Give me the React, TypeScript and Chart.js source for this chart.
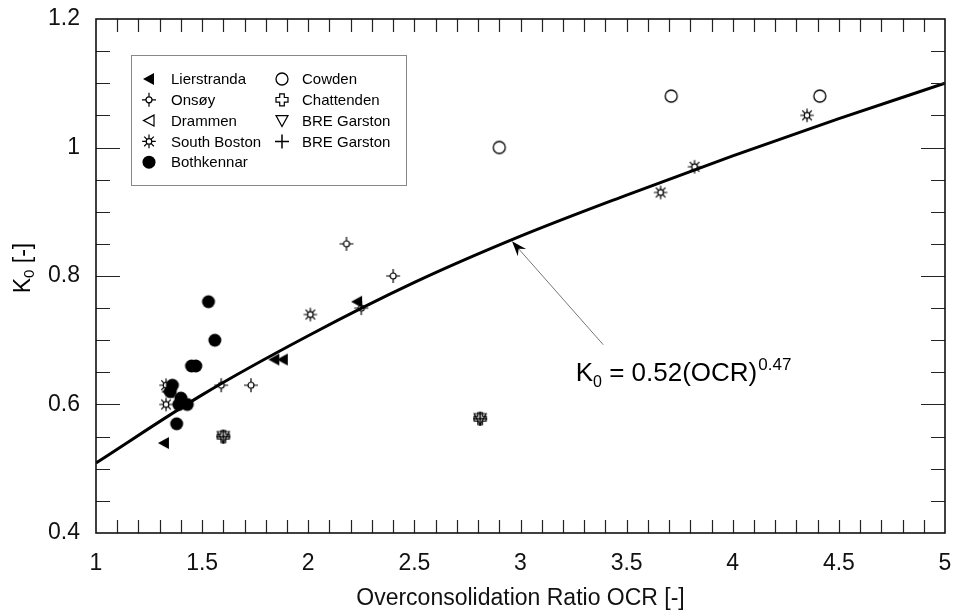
import React, { useEffect, useRef } from 'react';
import { Chart, registerables } from 'chart.js';

Chart.register(...registerables);

const FONT = "'Liberation Sans', Arial, Helvetica, sans-serif";

// ---- data (OCR, K0) ----
const lierstranda: [number, number][] = [[1.32, 0.54], [1.84, 0.67], [1.88, 0.67], [2.23, 0.76]];
const onsoy: [number, number][] = [[1.59, 0.63], [1.73, 0.63], [2.18, 0.85], [2.4, 0.8], [2.25, 0.75]];
const drammen: [number, number][] = [[1.34, 0.62]];
const southBoston: [number, number][] = [[1.33, 0.63], [1.33, 0.6], [2.01, 0.74], [3.66, 0.93], [3.82, 0.97], [4.35, 1.05]];
const bothkennar: [number, number][] = [
  [1.53, 0.76], [1.56, 0.7], [1.45, 0.66], [1.47, 0.66], [1.36, 0.63],
  [1.35, 0.62], [1.4, 0.61], [1.39, 0.6], [1.43, 0.6], [1.38, 0.57],
];
const cowden: [number, number][] = [[2.9, 1.0], [3.71, 1.08], [4.41, 1.08]];
const chattenden: [number, number][] = [[1.6, 0.55], [2.81, 0.578]];
const breGarstonTri: [number, number][] = [[1.6, 0.55], [2.81, 0.578]];
const breGarstonPlus: [number, number][] = [[1.6, 0.55], [2.81, 0.578]];

// fitted curve K0 = 0.52(OCR)^0.47
const curveOCR = [1.0, 1.5, 2.0, 2.5, 3.0, 3.5, 4.0, 4.5, 5.0];
const curveK0 = [0.509, 0.615, 0.707, 0.79, 0.862, 0.926, 0.987, 1.045, 1.1];

const xMin = 1, xMax = 5, xStep = 0.5, xMinor = 0.1;
const yMin = 0.4, yMax = 1.2, yStep = 0.2, yMinor = 0.05;

// annotation anchor values (data units)
const arrowTip = [2.96, 0.854];
const arrowTail = [3.39, 0.693];
const eqPos = [3.26, 0.637];

type Kind = 'triL' | 'onsoy' | 'triLOpen' | 'sun' | 'dot' | 'ring' | 'openPlus' | 'triDown' | 'plus';

const series: { label: string; kind: Kind; data: [number, number][]; order: number }[] = [
  { label: 'Lierstranda', kind: 'triL', data: lierstranda, order: 1 },
  { label: 'Onsøy', kind: 'onsoy', data: onsoy, order: 1 },
  { label: 'Drammen', kind: 'triLOpen', data: drammen, order: 2 },
  { label: 'South Boston', kind: 'sun', data: southBoston, order: 2 },
  { label: 'Bothkennar', kind: 'dot', data: bothkennar, order: 0 },
  { label: 'Cowden', kind: 'ring', data: cowden, order: 1 },
  { label: 'Chattenden', kind: 'openPlus', data: chattenden, order: 1 },
  { label: 'BRE Garston', kind: 'triDown', data: breGarstonTri, order: 1 },
  { label: 'BRE Garston', kind: 'plus', data: breGarstonPlus, order: 1 },
];

function drawMarker(ctx: CanvasRenderingContext2D, kind: Kind, x: number, y: number) {
  ctx.save();
  ctx.strokeStyle = '#000';
  ctx.fillStyle = '#000';
  ctx.lineWidth = 1.2;
  ctx.beginPath();
  switch (kind) {
    case 'triL':
      ctx.moveTo(x - 6, y);
      ctx.lineTo(x + 5, y - 6);
      ctx.lineTo(x + 5, y + 6);
      ctx.closePath();
      ctx.fill();
      break;
    case 'triLOpen':
      ctx.moveTo(x - 5.5, y);
      ctx.lineTo(x + 5, y - 5.5);
      ctx.lineTo(x + 5, y + 5.5);
      ctx.closePath();
      ctx.stroke();
      break;
    case 'onsoy': {
      ctx.arc(x, y, 3, 0, Math.PI * 2);
      ctx.stroke();
      ctx.beginPath();
      ctx.moveTo(x, y - 3); ctx.lineTo(x, y - 7);
      ctx.moveTo(x, y + 3); ctx.lineTo(x, y + 7);
      ctx.moveTo(x - 3, y); ctx.lineTo(x - 7, y);
      ctx.moveTo(x + 3, y); ctx.lineTo(x + 7, y);
      ctx.stroke();
      break;
    }
    case 'sun': {
      ctx.arc(x, y, 2.8, 0, Math.PI * 2);
      ctx.stroke();
      ctx.beginPath();
      for (let i = 0; i < 8; i++) {
        const a = (i * Math.PI) / 4;
        ctx.moveTo(x + Math.cos(a) * 2.8, y + Math.sin(a) * 2.8);
        ctx.lineTo(x + Math.cos(a) * 6.8, y + Math.sin(a) * 6.8);
      }
      ctx.stroke();
      break;
    }
    case 'dot':
      ctx.arc(x, y, 6.5, 0, Math.PI * 2);
      ctx.fill();
      break;
    case 'ring':
      ctx.lineWidth = 1.3;
      ctx.arc(x, y, 6, 0, Math.PI * 2);
      ctx.stroke();
      break;
    case 'openPlus': {
      const w = 2.3, l = 6;
      ctx.moveTo(x - w, y - l);
      ctx.lineTo(x + w, y - l);
      ctx.lineTo(x + w, y - w);
      ctx.lineTo(x + l, y - w);
      ctx.lineTo(x + l, y + w);
      ctx.lineTo(x + w, y + w);
      ctx.lineTo(x + w, y + l);
      ctx.lineTo(x - w, y + l);
      ctx.lineTo(x - w, y + w);
      ctx.lineTo(x - l, y + w);
      ctx.lineTo(x - l, y - w);
      ctx.lineTo(x - w, y - w);
      ctx.closePath();
      ctx.stroke();
      break;
    }
    case 'triDown':
      ctx.moveTo(x - 6, y - 5);
      ctx.lineTo(x + 6, y - 5);
      ctx.lineTo(x, y + 6);
      ctx.closePath();
      ctx.stroke();
      break;
    case 'plus':
      ctx.lineWidth = 1.5;
      ctx.moveTo(x - 7, y);
      ctx.lineTo(x + 7, y);
      ctx.moveTo(x, y - 7);
      ctx.lineTo(x, y + 7);
      ctx.stroke();
      break;
  }
  ctx.restore();
}

function markerImage(kind: Kind): HTMLCanvasElement {
  const c = document.createElement('canvas');
  c.width = 20;
  c.height = 20;
  const ctx = c.getContext('2d')!;
  drawMarker(ctx, kind, 10, 10);
  return c;
}

const framePlugin = {
  id: 'frameTicks',
  afterDatasetsDraw(chart: any) {
    const { ctx, chartArea: a, scales } = chart;
    const xs = scales.x, ys = scales.y;
    ctx.save();
    ctx.strokeStyle = '#222';
    ctx.lineWidth = 1.2;
    // minor/major ticks, inward on all sides
    const nx = Math.round((xMax - xMin) / xMinor);
    ctx.beginPath();
    for (let i = 1; i < nx; i++) {
      const v = xMin + i * xMinor;
      const px = Math.round(xs.getPixelForValue(v)) + 0.5;
      const len = 13;
      ctx.moveTo(px, a.bottom);
      ctx.lineTo(px, a.bottom - len);
      ctx.moveTo(px, a.top);
      ctx.lineTo(px, a.top + len);
    }
    const ny = Math.round((yMax - yMin) / yMinor);
    const per = Math.round(yStep / yMinor);
    for (let i = 1; i < ny; i++) {
      const v = yMin + i * yMinor;
      const py = Math.round(ys.getPixelForValue(v)) + 0.5;
      const len = i % per === 0 ? 24 : 14;
      ctx.moveTo(a.left, py);
      ctx.lineTo(a.left + len, py);
      ctx.moveTo(a.right, py);
      ctx.lineTo(a.right - len, py);
    }
    ctx.stroke();
    ctx.lineWidth = 1.6;
    ctx.strokeStyle = '#111';
    ctx.strokeRect(a.left, a.top, a.right - a.left, a.bottom - a.top);

    // legend
    const lx = a.left + 35, ly = a.top + 36;
    ctx.lineWidth = 1;
    ctx.strokeStyle = '#888';
    ctx.strokeRect(lx + 0.5, ly + 0.5, 275, 130);
    ctx.font = `15px ${FONT}`;
    ctx.fillStyle = '#000';
    ctx.textBaseline = 'middle';
    ctx.textAlign = 'left';
    series.forEach((s, i) => {
      const col = i < 5 ? 0 : 1;
      const row = i < 5 ? i : i - 5;
      const cy = ly + 24 + row * 20.8;
      const mx = lx + (col === 0 ? 18 : 151);
      const tx = lx + (col === 0 ? 40 : 171);
      drawMarker(ctx, s.kind, mx, cy);
      ctx.fillStyle = '#000';
      ctx.fillText(s.label, tx, cy + 1);
    });

    // arrow annotation
    const tx = xs.getPixelForValue(arrowTip[0]), ty = ys.getPixelForValue(arrowTip[1]);
    const sx = xs.getPixelForValue(arrowTail[0]), sy = ys.getPixelForValue(arrowTail[1]);
    const dx = tx - sx, dy = ty - sy, dl = Math.hypot(dx, dy);
    const ux = dx / dl, uy = dy / dl, nxv = -uy, nyv = ux;
    ctx.strokeStyle = '#777';
    ctx.lineWidth = 1;
    ctx.beginPath();
    ctx.moveTo(sx, sy);
    ctx.lineTo(tx - ux * 8, ty - uy * 8);
    ctx.stroke();
    ctx.fillStyle = '#000';
    ctx.beginPath();
    ctx.moveTo(tx, ty);
    ctx.lineTo(tx - ux * 15 + nxv * 5.5, ty - uy * 15 + nyv * 5.5);
    ctx.lineTo(tx - ux * 10, ty - uy * 10);
    ctx.lineTo(tx - ux * 15 - nxv * 5.5, ty - uy * 15 - nyv * 5.5);
    ctx.closePath();
    ctx.fill();

    // equation
    let ex = xs.getPixelForValue(eqPos[0]);
    const ey = ys.getPixelForValue(eqPos[1]);
    ctx.textBaseline = 'alphabetic';
    ctx.fillStyle = '#000';
    const big = `26px ${FONT}`, small = `16px ${FONT}`, sup = `17px ${FONT}`;
    ctx.font = big; ctx.fillText('K', ex, ey); ex += ctx.measureText('K').width;
    ctx.font = small; ctx.fillText('0', ex, ey + 6); ex += ctx.measureText('0').width;
    ctx.font = big; ctx.fillText(' = 0.52(OCR)', ex, ey); ex += ctx.measureText(' = 0.52(OCR)').width;
    ctx.font = sup; ctx.fillText('0.47', ex + 1, ey - 11);

    // y-axis title
    ctx.save();
    ctx.translate(24, 268);
    ctx.rotate(-Math.PI / 2);
    const f1 = `23px ${FONT}`, f2 = `15px ${FONT}`;
    ctx.font = f1; const wK = ctx.measureText('K').width; const wR = ctx.measureText(' [-]').width;
    ctx.font = f2; const w0 = ctx.measureText('0').width;
    let px = -(wK + w0 + wR) / 2;
    ctx.textBaseline = 'middle';
    ctx.font = f1; ctx.fillText('K', px, 0); px += wK;
    ctx.font = f2; ctx.fillText('0', px, 6); px += w0;
    ctx.font = f1; ctx.fillText(' [-]', px, 0);
    ctx.restore();

    ctx.restore();
  },
};

function zeroPad(s: any) {
  s.paddingTop = 0;
  s.paddingBottom = 0;
  s.paddingLeft = 0;
  s.paddingRight = 0;
}

export default function App() {
  const ref = useRef<HTMLCanvasElement>(null);
  useEffect(() => {
    if (!ref.current) return;
    const datasets: any[] = series.map((s) => ({
      label: s.label,
      data: s.data.map(([x, y]) => ({ x, y })),
      pointStyle: markerImage(s.kind),
      pointRadius: 7,
      showLine: false,
      order: s.order,
    }));
    datasets.push({
      label: 'fit',
      data: curveOCR.map((x, i) => ({ x, y: curveK0[i] })),
      showLine: true,
      borderColor: '#000',
      borderWidth: 3,
      pointRadius: 0,
      cubicInterpolationMode: 'monotone',
      order: 5,
    });
    const chart = new Chart(ref.current, {
      type: 'scatter',
      data: { datasets },
      options: {
        animation: false,
        responsive: true,
        maintainAspectRatio: false,
        layout: { padding: { top: 19, right: 10, left: 0, bottom: 0 } },
        plugins: { legend: { display: false }, tooltip: { enabled: false } },
        scales: {
          x: {
            type: 'linear',
            min: xMin,
            max: xMax,
            grid: { display: false },
            border: { display: false },
            ticks: {
              stepSize: xStep,
              autoSkip: false,
              maxRotation: 0,
              padding: 9,
              color: '#111',
              font: { family: FONT, size: 23 },
              callback: (v: any) => String(Number(Number(v).toFixed(2))),
            },
            title: {
              display: true,
              text: 'Overconsolidation Ratio OCR [-]',
              color: '#111',
              font: { family: FONT, size: 23 },
              padding: { top: 0, bottom: 0 },
            },
            afterFit: (s: any) => { s.height = 79; zeroPad(s); },
          },
          y: {
            type: 'linear',
            min: yMin,
            max: yMax,
            grid: { display: false },
            border: { display: false },
            ticks: {
              stepSize: yStep,
              autoSkip: false,
              padding: 8,
              color: '#111',
              font: { family: FONT, size: 23 },
              callback: (v: any) => String(Number(Number(v).toFixed(2))),
            },
            afterFit: (s: any) => { s.width = 96; zeroPad(s); },
          },
        },
      },
      plugins: [framePlugin],
    } as any);
    return () => chart.destroy();
  }, []);
  return (
    <div style={{ position: 'fixed', left: 0, top: 0, width: 955, height: 612, background: '#fff' }}>
      <canvas ref={ref} />
    </div>
  );
}
